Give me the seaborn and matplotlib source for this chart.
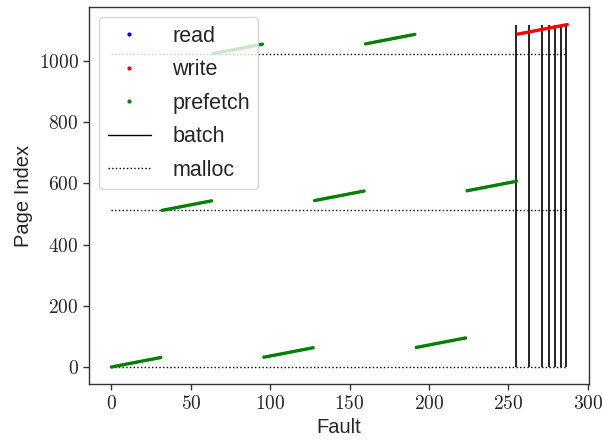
import numpy as np
import pandas as pd
import matplotlib
matplotlib.use("Agg")
import matplotlib.pyplot as plt
from matplotlib.lines import Line2D
from matplotlib.ticker import FuncFormatter
import seaborn as sns

# ---- data ----
prefetch_fault_starts = [0, 32, 64, 96, 128, 160, 192, 224]
prefetch_page_starts = [0, 512, 1024, 32, 544, 1056, 64, 576]
write_fault_starts = [256]
write_page_starts = [1088]
segment_length = 32
batch_faults = [255, 263, 271, 275.5, 279.5, 283, 286.5]
batch_top = 1119
malloc_pages = [0, 512, 1024]
malloc_end = 287

rows = []
for kind, fs, ps in [("prefetch", prefetch_fault_starts, prefetch_page_starts),
                     ("write", write_fault_starts, write_page_starts)]:
    for f0, p0 in zip(fs, ps):
        for k in range(segment_length):
            rows.append({"Fault": f0 + k, "Page": p0 + k, "type": kind})
df = pd.DataFrame(rows)

sns.set_theme(style="ticks")
plt.rcParams["font.family"] = ["Liberation Sans", "DejaVu Sans"]
plt.rcParams["mathtext.fontset"] = "cm"

fig = plt.figure(figsize=(6.03, 4.40), dpi=100)
ax = fig.add_axes([0.148, 0.127, 0.829, 0.856])

palette = {"read": "blue", "write": "red", "prefetch": "green"}
sns.scatterplot(data=df, x="Fault", y="Page", hue="type", palette=palette,
                s=6, linewidth=0, ax=ax, legend=False, zorder=3)

ax.vlines(batch_faults, 0, batch_top, colors="black", linewidth=1.2, zorder=2)
ax.hlines(malloc_pages, 0, malloc_end, colors="black", linestyles=":", linewidth=1.0, zorder=2)

ax.set_xlim(-14, 300.8)
ax.set_xlabel("Fault", fontsize=14.5)
ax.set_ylabel("Page Index", fontsize=14.5)
ax.set_xticks([0, 50, 100, 150, 200, 250, 300])
ax.set_yticks([0, 200, 400, 600, 800, 1000])
fmt = FuncFormatter(lambda v, p: f"${int(v)}$")
ax.xaxis.set_major_formatter(fmt)
ax.yaxis.set_major_formatter(fmt)
ax.tick_params(labelsize=14, length=4, width=1, color="#333333")
for s in ax.spines.values():
    s.set_color("#333333")
    s.set_linewidth(1.0)

handles = [
    Line2D([], [], marker="o", linestyle="none", color="blue", markersize=2),
    Line2D([], [], marker="o", linestyle="none", color="red", markersize=2),
    Line2D([], [], marker="o", linestyle="none", color="green", markersize=2),
    Line2D([], [], color="black", linewidth=1.0),
    Line2D([], [], color="black", linestyle=":", linewidth=1.0),
]
labels = ["read", "write", "prefetch", "batch", "malloc"]
leg = ax.legend(handles, labels, loc="upper left", fontsize=15.5, framealpha=0.8,
                fancybox=True, edgecolor="#cccccc", borderaxespad=0.45,
                labelspacing=0.58, handlelength=2.0, handletextpad=1.0)

fig.savefig("out.png", dpi=100)
